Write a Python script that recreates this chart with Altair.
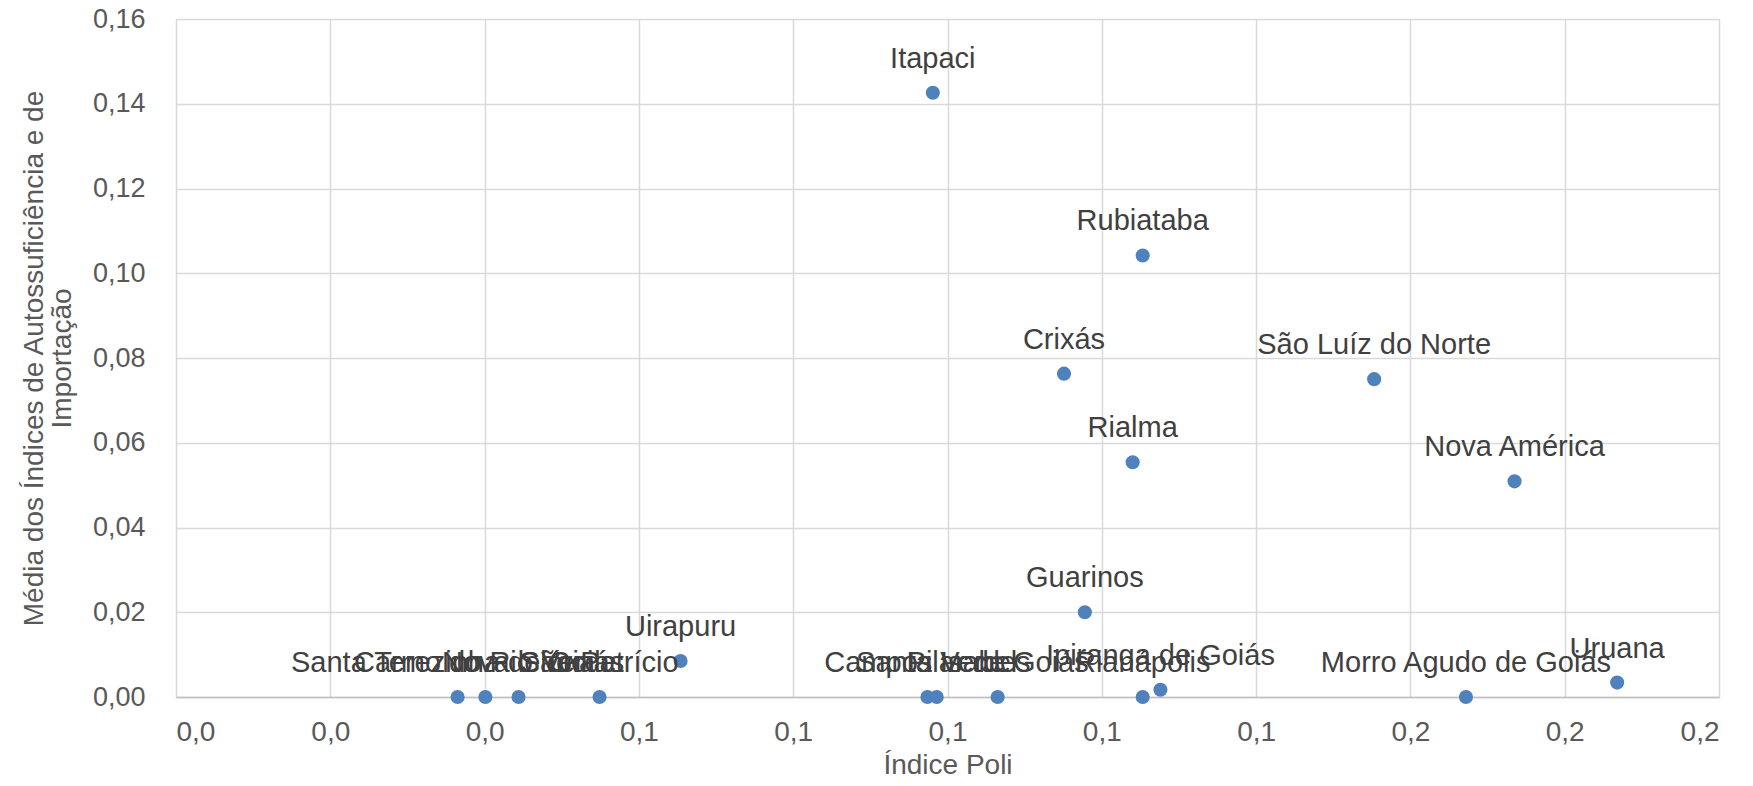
import altair as alt
import pandas as pd

names = [
    "Itapaci", "Rubiataba", "Crixás", "São Luíz do Norte", "Rialma",
    "Nova América", "Guarinos", "Uirapuru", "Uruana", "Ipiranga de Goiás",
    "Morro Agudo de Goiás", "Campos Verdes", "Santa Isabel", "Pilar de Goiás",
    "Rianápolis", "Santa Terezinha de Goiás", "Carmo do Rio Verde",
    "Nova Glória", "São Patrício",
]
indice_poli = [
    0.0981, 0.1253, 0.1151, 0.1553, 0.1240,
    0.1735, 0.1178, 0.0654, 0.1868, 0.1276,
    0.1672, 0.0974, 0.0986, 0.1065,
    0.1253, 0.0365, 0.0401,
    0.0444, 0.0549,
]
media_indices = [
    0.1426, 0.1042, 0.0763, 0.0750, 0.0554,
    0.0509, 0.0200, 0.0085, 0.0034, 0.0017,
    0.0, 0.0, 0.0, 0.0,
    0.0, 0.0, 0.0,
    0.0, 0.0,
]
x_ticks = [0.0, 0.02, 0.04, 0.06, 0.08, 0.10, 0.12, 0.14, 0.16, 0.18, 0.20]
y_ticks = [0.0, 0.02, 0.04, 0.06, 0.08, 0.10, 0.12, 0.14, 0.16]

df = pd.DataFrame({"nome": names, "x": indice_poli, "y": media_indices})

FONT = "Liberation Sans"
AXIS_COLOR = "#595959"
GRID = "#D9D9D9"

x_enc = alt.X(
    "x:Q",
    scale=alt.Scale(domain=[0, 0.2], nice=False, zero=True),
    axis=alt.Axis(
        title="Índice Poli",
        values=x_ticks,
        labelExpr="replace(format(datum.value, '.1f'), '.', ',')",
        grid=True, gridColor=GRID, gridWidth=1.5,
        domain=True, domainColor="#BFBFBF", domainWidth=1.5,
        ticks=False, tickSize=0,
        labelFont=FONT, labelFontSize=28, labelColor=AXIS_COLOR,
        labelPadding=35, labelBaseline="middle",
        titleFont=FONT, titleFontSize=28, titleColor=AXIS_COLOR,
        titleFontWeight="normal", titleBaseline="middle", titleY=68,
    ),
)
y_enc = alt.Y(
    "y:Q",
    scale=alt.Scale(domain=[0, 0.16], nice=False, zero=True),
    axis=alt.Axis(
        title=["Média dos Índices de Autossuficiência  e de", "Importação"],
        values=y_ticks,
        labelExpr="replace(format(datum.value, '.2f'), '.', ',')",
        grid=True, gridColor=GRID, gridWidth=1.5,
        domain=False, ticks=False, tickSize=0,
        labelFont=FONT, labelFontSize=27, labelColor=AXIS_COLOR,
        labelPadding=31,
        titleFont=FONT, titleFontSize=28, titleColor=AXIS_COLOR,
        titleFontWeight="normal", titleAngle=270,
        titleAlign="center", titleBaseline="middle",
        titleX=-142, titleY=339, titleLineHeight=28,
    ),
)

base = alt.Chart(df)
points = base.mark_circle(size=200, opacity=1, color="#4F81BD").encode(x=x_enc, y=y_enc)
labels = base.mark_text(
    dy=-34, fontSize=29, font=FONT, color="#404040", align="center", baseline="middle"
).encode(x="x:Q", y="y:Q", text="nome:N")

chart = (
    alt.layer(points, labels)
    .properties(
        width=1543, height=678,
        autosize=alt.AutoSizeParams(type="none"),
        padding={"left": 168, "top": 11, "right": 26, "bottom": 81},
    )
    .configure_view(stroke=None)
    .configure(background="white")
)

chart.save("out.html", embed_options={"renderer": "svg", "actions": False})
